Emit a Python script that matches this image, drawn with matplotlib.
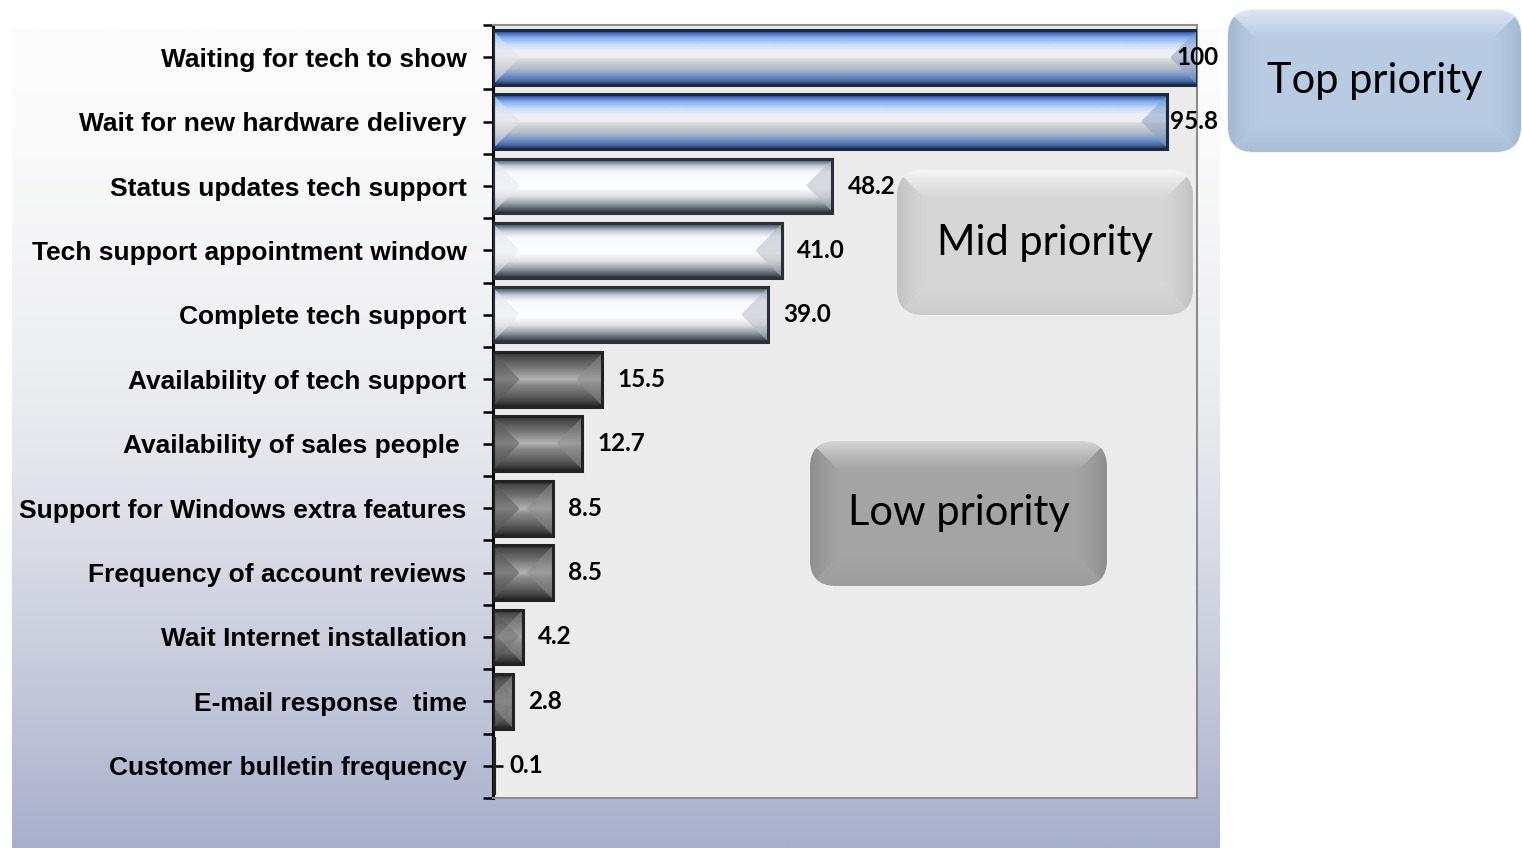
import numpy as np
import matplotlib.pyplot as plt
from matplotlib.colors import to_rgb
from matplotlib.patches import FancyBboxPatch
from matplotlib.transforms import blended_transform_factory

categories = [
    "Waiting for tech to show",
    "Wait for new hardware delivery",
    "Status updates tech support",
    "Tech support appointment window",
    "Complete tech support",
    "Availability of tech support",
    "Availability of sales people ",
    "Support for Windows extra features",
    "Frequency of account reviews",
    "Wait Internet installation",
    "E-mail response  time",
    "Customer bulletin frequency",
]
values = [100, 95.8, 48.2, 41.0, 39.0, 15.5, 12.7, 8.5, 8.5, 4.2, 2.8, 0.1]
tiers = ["top", "top", "mid", "mid", "mid", "low", "low", "low", "low", "low", "low", "low"]
tier_names = {"top": "Top priority", "mid": "Mid priority", "low": "Low priority"}

# vertical shading of the glossy bars, per tier
profiles = {
    "top": [(0, "#24344c"), (0.05, "#3d64a8"), (0.13, "#7ea8ee"), (0.26, "#c8dcf8"),
            (0.38, "#eef0f8"), (0.5, "#ecedf0"), (0.54, "#d6d8da"), (0.7, "#b6bec8"),
            (0.82, "#7896c8"), (0.92, "#4a6ca8"), (1, "#1e2c44")],
    "mid": [(0, "#2c333c"), (0.06, "#6a7484"), (0.15, "#c8d0e0"), (0.26, "#f6f8fc"),
            (0.55, "#ffffff"), (0.7, "#dadde2"), (0.82, "#9aa0a8"), (0.92, "#5a626c"),
            (1, "#262c34")],
    "low": [(0, "#262626"), (0.08, "#4a4a4a"), (0.25, "#6e6e6e"), (0.45, "#a4a4a4"),
            (0.5, "#b2b2b2"), (0.6, "#8a8a8a"), (0.8, "#5e5e5e"), (0.92, "#3e3e3e"),
            (1, "#1e1e1e")],
}
end_colors = {"top": ("#dfe2ea", "#8aa0c8"), "mid": ("#e6e8ee", "#b8bcc4"), "low": ("#5a5a5a", "#8c8c8c")}
edge_colors = {"top": "#1c2a40", "mid": "#2a3038", "low": "#222222"}


def shade(profile, t):
    pos = np.array([p for p, _ in profile])
    cols = np.array([to_rgb(c) for _, c in profile])
    return np.stack([np.interp(t, pos, cols[:, k]) for k in range(3)], axis=-1)


def bevel_image(nx, ny, base, left_col, right_col, bev, mix=0.6):
    y = np.arange(ny)[:, None] + 0.5
    x = np.arange(nx)[None, :] + 0.5
    img = np.broadcast_to(base[:, None, :], (ny, nx, 3)).copy()
    dv = np.minimum(y, ny - y)
    left = (x < dv) & (x < bev)
    right = ((nx - x) < dv) & ((nx - x) < bev)
    img[left] = img[left] * (1 - mix) + np.array(to_rgb(left_col)) * mix
    img[right] = img[right] * (1 - mix) + np.array(to_rgb(right_col)) * mix
    return img


def pillow_image(nx, ny, fill, light, side, bottom, bev):
    y = np.arange(ny)[:, None] + 0.5 + np.zeros((1, nx))
    x = np.arange(nx)[None, :] + 0.5 + np.zeros((ny, 1))
    d = np.stack([y, ny - y, x, nx - x])
    which = d.argmin(axis=0)
    f = np.clip(1 - d.min(axis=0) / bev, 0, 1)[..., None] ** 1.3
    edge = np.array([to_rgb(light), to_rgb(bottom), to_rgb(side), to_rgb(side)])[which]
    return np.array(to_rgb(fill)) * (1 - f) + edge * f


fig = plt.figure(figsize=(15.22, 8.48), dpi=100)
fig.patch.set_facecolor("white")

# backdrop panel behind the chart
bg = fig.add_axes([0, 0, 1, 1], zorder=0)
bg.set_xlim(0, 1522)
bg.set_ylim(848, 0)
bg.axis("off")
tt = np.linspace(0, 1, 200) ** 1.6
panel = shade([(0, "#fcfcfc"), (0.35, "#e6e7ec"), (1, "#a7afcb")], tt)[:, None, :]
bg.imshow(panel, extent=(12, 1220, 848, 28), aspect="auto", interpolation="bilinear")

ax = fig.add_axes([493 / 1522, 1 - 798 / 848, 704 / 1522, 773 / 848], zorder=1)
ax.set_facecolor("#ebebeb")

ypos = np.arange(len(values))
bar_h = 0.85
bars = ax.barh(ypos, values, height=bar_h, color="none", zorder=3)
for rect, v, tier, y in zip(bars, values, tiers, ypos):
    rect.set_edgecolor(edge_colors[tier])
    rect.set_linewidth(2.2)
    nx = max(int(v * 7.04) + 2, 3)
    ny = 55
    base = shade(profiles[tier], (np.arange(ny) + 0.5) / ny)
    img = bevel_image(nx, ny, base, end_colors[tier][0], end_colors[tier][1], 26, 0.55)
    im = ax.imshow(img, extent=(0, v, y + bar_h / 2, y - bar_h / 2), aspect="auto",
                   interpolation="bilinear", zorder=2)
    im.set_clip_path(rect)

trans = blended_transform_factory(ax.transAxes, ax.transData)
for v, y in zip(values, ypos):
    txt = "100" if v == 100 else f"{v:.1f}"
    if v > 90:
        ax.text(1.03, y, txt, transform=trans, ha="right", va="center",
                fontsize=17.5, fontweight="bold", family="Lato", zorder=5)
    else:
        ax.annotate(txt, (v, y), xytext=(11, 0), textcoords="offset points",
                    ha="left", va="center", fontsize=17.5, fontweight="bold",
                    family="Lato", zorder=5)

ax.set_xlim(0, 100)
ax.set_ylim(len(values) - 0.5, -0.5)
ax.set_xticks([])
ax.set_yticks(ypos)
ax.set_yticklabels(categories, fontsize=19, fontweight="bold", family="Liberation Sans")
ax.set_yticks(np.arange(len(values) + 1) - 0.5, minor=True)
ax.tick_params(axis="y", which="major", direction="inout", length=14, width=1.8, pad=12)
ax.tick_params(axis="y", which="minor", direction="out", length=7, width=1.8)
for side in ["top", "right", "bottom"]:
    ax.spines[side].set_color("#8c8c8c")
    ax.spines[side].set_linewidth(1.5)
ax.spines["left"].set_color("black")
ax.spines["left"].set_linewidth(2.2)

# priority callouts on top of everything
fg = fig.add_axes([0, 0, 1, 1], zorder=4)
fg.set_xlim(0, 1522)
fg.set_ylim(848, 0)
fg.axis("off")
fg.patch.set_alpha(0)

boxes = {
    "top": (1228, 10, 293, 142, "#b8cbe2", "#dfe8f3", "#a3b8d2", "#a9bdd6"),
    "mid": (897, 170, 296, 145, "#d6d6d6", "#f6f6f6", "#c2c2c2", "#cbcbcb"),
    "low": (810, 441, 297, 145, "#a4a4a4", "#d6d6d6", "#8e8e8e", "#9c9c9c"),
}
for key, (bx, by, bw, bh, fill, light, side, bottom) in boxes.items():
    patch = FancyBboxPatch((bx, by), bw, bh, boxstyle="round,pad=0,rounding_size=26",
                           facecolor=fill, edgecolor="#f0f0f0", linewidth=1.2, zorder=1)
    fg.add_patch(patch)
    img = pillow_image(int(bw), int(bh), fill, light, side, bottom, 30)
    im = fg.imshow(img, extent=(bx, bx + bw, by + bh, by), aspect="auto",
                   interpolation="bilinear", zorder=2)
    im.set_clip_path(patch)
    fg.text(bx + bw / 2, by + bh / 2, tier_names[key], ha="center", va="center",
            fontsize=30, family="Lato", zorder=3)
fg.set_xlim(0, 1522)
fg.set_ylim(848, 0)

plt.savefig("out.png", dpi=100)
